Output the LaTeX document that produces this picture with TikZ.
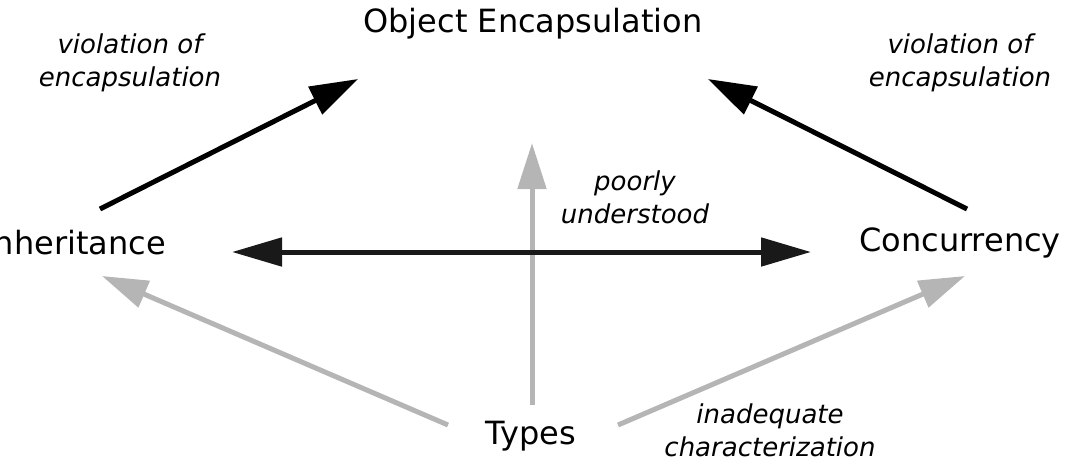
\documentclass[tikz,border=0pt]{standalone}
\usepackage{fontspec}
\setmainfont{DejaVu Sans}
\usetikzlibrary{arrows.meta}
\definecolor{lightarr}{HTML}{B5B5B5}
\tikzset{
  mainlbl/.style={font=\fontsize{32}{36}\selectfont, inner sep=0pt},
  notelbl/.style={font=\fontsize{26}{33}\selectfont\itshape, align=center, inner sep=0pt},
  darkarr/.style={draw=black, line width=5pt, -{Triangle[length=48pt,width=30pt]}},
  dbldark/.style={draw=black!90, line width=5pt, {Triangle[length=50pt,width=28pt]}-{Triangle[length=50pt,width=28pt]}},
  greyarr/.style={draw=lightarr, line width=5pt, -{Triangle[length=46pt,width=28pt]}}
}
\begin{document}
\begin{tikzpicture}[x=1pt,y=-1pt]
\useasboundingbox (0,0) rectangle (1066,467);
\clip (0,0) rectangle (1066,467);
% nodes
\node[mainlbl] (obj) at (533,24) {Object Encapsulation};
\node[mainlbl, anchor=east] (inh) at (166,243) {Inheritance};
\node[mainlbl] (conc) at (960,243) {Concurrency};
\node[mainlbl] (types) at (531,436) {Types};
% labels
\node[notelbl] (vl) at (130,63) {violation of\\encapsulation};
\node[notelbl] (vr) at (960,63) {violation of\\encapsulation};
\node[notelbl] (pu) at (635,197) {poorly\\understood};
\node[notelbl] (ic) at (770,430) {inadequate\\characterization};
% connector ends
\coordinate (inhTop) at (100,209);
\coordinate (objL) at (358,79);
\coordinate (concTop) at (967,209);
\coordinate (objR) at (708,79);
\coordinate (inhR) at (232,252);
\coordinate (concL) at (811,252);
\coordinate (typesTop) at (532,405);
\coordinate (objBot) at (532,143);
\coordinate (typesL) at (448,425);
\coordinate (inhBot) at (102,276);
\coordinate (typesR) at (618,425);
\coordinate (concBot) at (965,276);
% connectors
\draw[greyarr] (typesTop) -- (objBot);
\draw[greyarr] (typesL) -- (inhBot);
\draw[greyarr] (typesR) -- (concBot);
\draw[darkarr] (inhTop) -- (objL);
\draw[darkarr] (concTop) -- (objR);
\draw[dbldark] (inhR) -- (concL);
\end{tikzpicture}
\end{document}
